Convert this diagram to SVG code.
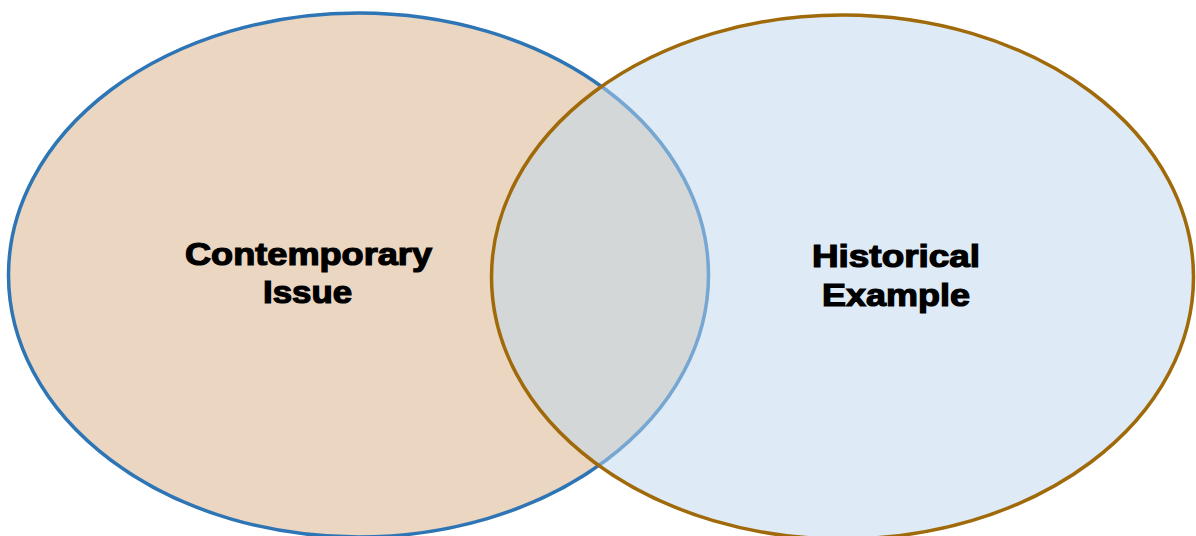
<svg xmlns="http://www.w3.org/2000/svg" width="1196" height="536" viewBox="0 0 1196 536">
  <style>
    .lbl { font-family: "Liberation Sans", Arial, sans-serif; font-weight: bold; font-size: 31px; fill: #000; stroke: #000; stroke-width: 1.2; text-anchor: middle; }
  </style>
  <rect width="1196" height="536" fill="#ffffff"/>
  <g id="contemporary">
    <ellipse cx="358.5" cy="275" rx="350" ry="262" fill="#EAD6C1" stroke="#2E75B6" stroke-width="3.5"/>
  </g>
  <g id="historical">
    <ellipse cx="842.5" cy="277" rx="351" ry="262" fill="#BDD7EE" fill-opacity="0.5" stroke="#A06A0A" stroke-width="3.5"/>
  </g>
  <g id="labels">
    <text class="lbl" x="308.5" y="265" textLength="247" lengthAdjust="spacingAndGlyphs">Contemporary</text>
    <text class="lbl" x="307.5" y="303" textLength="89" lengthAdjust="spacingAndGlyphs">Issue</text>
    <text class="lbl" x="896" y="267" textLength="168" lengthAdjust="spacingAndGlyphs">Historical</text>
    <text class="lbl" x="896" y="306" textLength="148" lengthAdjust="spacingAndGlyphs">Example</text>
  </g>
  <g id="connectors"/>
</svg>
